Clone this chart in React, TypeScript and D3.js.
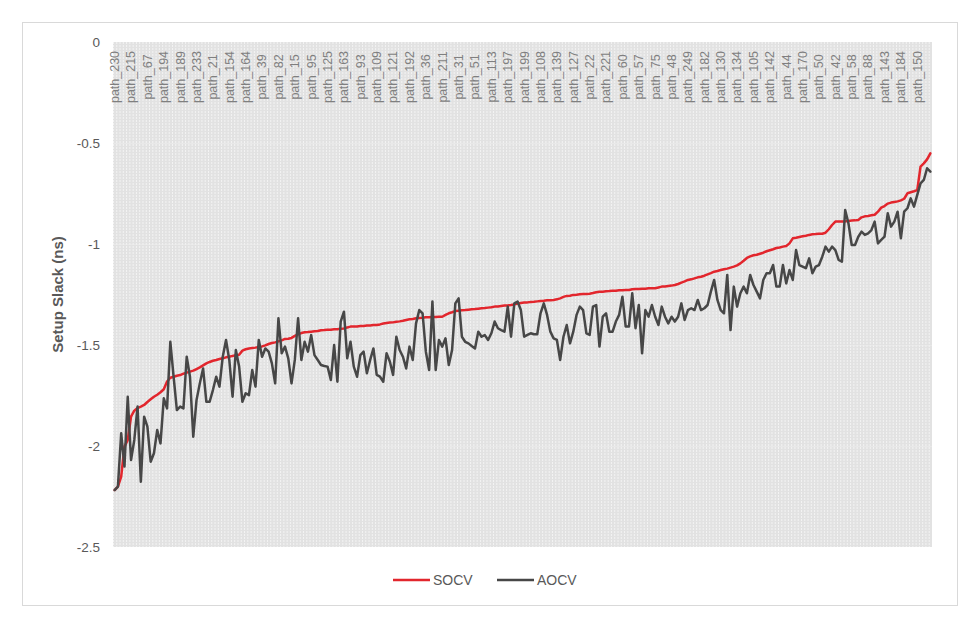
import React, { useEffect, useRef } from "react";
import * as d3 from "d3";

const tickLabels = [
  "path_230", "path_215", "path_67", "path_194", "path_189", "path_233", "path_21", "path_154", "path_164", "path_39",
  "path_82", "path_15", "path_95", "path_125", "path_163", "path_93", "path_109", "path_121", "path_192", "path_36",
  "path_211", "path_31", "path_51", "path_113", "path_197", "path_199", "path_108", "path_139", "path_127", "path_22",
  "path_221", "path_60", "path_57", "path_75", "path_48", "path_249", "path_182", "path_130", "path_134", "path_105",
  "path_142", "path_44", "path_170", "path_50", "path_42", "path_58", "path_88", "path_143", "path_184", "path_150",
];
const labelEvery = 5;

const socv = [
  -2.218, -2.201, -2.152, -2.003, -1.970, -1.855, -1.825, -1.812, -1.805, -1.797,
  -1.782, -1.769, -1.756, -1.746, -1.734, -1.719, -1.681, -1.662, -1.657, -1.652,
  -1.649, -1.642, -1.637, -1.632, -1.627, -1.619, -1.611, -1.601, -1.591, -1.584,
  -1.578, -1.574, -1.569, -1.566, -1.561, -1.558, -1.554, -1.551, -1.548, -1.528,
  -1.521, -1.517, -1.515, -1.513, -1.510, -1.507, -1.502, -1.495, -1.490, -1.487,
  -1.482, -1.477, -1.470, -1.469, -1.465, -1.455, -1.447, -1.441, -1.437, -1.436,
  -1.434, -1.432, -1.431, -1.427, -1.426, -1.424, -1.424, -1.422, -1.422, -1.419,
  -1.418, -1.413, -1.409, -1.408, -1.408, -1.406, -1.406, -1.404, -1.403, -1.401,
  -1.401, -1.398, -1.394, -1.391, -1.389, -1.388, -1.385, -1.383, -1.380, -1.376,
  -1.373, -1.371, -1.368, -1.366, -1.365, -1.363, -1.363, -1.361, -1.361, -1.360,
  -1.360, -1.351, -1.343, -1.338, -1.332, -1.330, -1.328, -1.327, -1.325, -1.323,
  -1.322, -1.320, -1.318, -1.317, -1.315, -1.313, -1.310, -1.309, -1.307, -1.305,
  -1.304, -1.302, -1.299, -1.295, -1.292, -1.290, -1.289, -1.287, -1.286, -1.284,
  -1.282, -1.281, -1.279, -1.279, -1.277, -1.274, -1.269, -1.262, -1.257, -1.256,
  -1.252, -1.251, -1.249, -1.248, -1.248, -1.246, -1.243, -1.239, -1.236, -1.236,
  -1.234, -1.233, -1.231, -1.231, -1.229, -1.229, -1.228, -1.228, -1.224, -1.223,
  -1.223, -1.221, -1.221, -1.219, -1.219, -1.219, -1.215, -1.211, -1.210, -1.208,
  -1.206, -1.203, -1.198, -1.191, -1.185, -1.178, -1.175, -1.170, -1.165, -1.162,
  -1.157, -1.150, -1.144, -1.137, -1.134, -1.129, -1.125, -1.122, -1.117, -1.112,
  -1.106, -1.096, -1.083, -1.069, -1.061, -1.056, -1.053, -1.048, -1.043, -1.036,
  -1.031, -1.026, -1.020, -1.017, -1.013, -1.010, -0.997, -0.972, -0.969, -0.965,
  -0.962, -0.959, -0.955, -0.952, -0.951, -0.949, -0.949, -0.944, -0.927, -0.906,
  -0.889, -0.889, -0.888, -0.888, -0.886, -0.884, -0.883, -0.881, -0.868, -0.863,
  -0.861, -0.858, -0.855, -0.840, -0.820, -0.812, -0.800, -0.795, -0.792, -0.789,
  -0.784, -0.776, -0.749, -0.744, -0.739, -0.733, -0.617, -0.601, -0.581, -0.551,
];

const aocv = [
  -2.218, -2.201, -1.937, -2.102, -1.756, -2.069, -1.970, -1.805, -2.177, -1.855,
  -1.904, -2.078, -2.036, -1.921, -1.987, -1.764, -1.814, -1.484, -1.657, -1.822,
  -1.805, -1.814, -1.558, -1.657, -1.954, -1.772, -1.690, -1.616, -1.781, -1.781,
  -1.723, -1.657, -1.706, -1.558, -1.475, -1.574, -1.756, -1.525, -1.607, -1.781,
  -1.739, -1.748, -1.624, -1.706, -1.475, -1.558, -1.517, -1.533, -1.591, -1.690,
  -1.368, -1.541, -1.508, -1.566, -1.690, -1.574, -1.368, -1.574, -1.484, -1.533,
  -1.451, -1.550, -1.574, -1.599, -1.604, -1.607, -1.673, -1.500, -1.682, -1.384,
  -1.335, -1.566, -1.484, -1.607, -1.657, -1.550, -1.533, -1.640, -1.574, -1.517,
  -1.648, -1.657, -1.682, -1.541, -1.582, -1.648, -1.459, -1.525, -1.558, -1.616,
  -1.508, -1.574, -1.393, -1.327, -1.343, -1.533, -1.624, -1.285, -1.624, -1.475,
  -1.508, -1.467, -1.599, -1.525, -1.294, -1.269, -1.459, -1.484, -1.492, -1.505,
  -1.517, -1.434, -1.459, -1.451, -1.475, -1.442, -1.384, -1.417, -1.426, -1.434,
  -1.310, -1.459, -1.294, -1.285, -1.327, -1.459, -1.450, -1.442, -1.447, -1.447,
  -1.343, -1.294, -1.351, -1.434, -1.467, -1.475, -1.574, -1.459, -1.401, -1.492,
  -1.434, -1.351, -1.310, -1.327, -1.442, -1.450, -1.310, -1.302, -1.508, -1.360,
  -1.343, -1.434, -1.434, -1.384, -1.351, -1.261, -1.409, -1.409, -1.244, -1.417,
  -1.302, -1.541, -1.327, -1.360, -1.302, -1.360, -1.401, -1.310, -1.360, -1.393,
  -1.360, -1.384, -1.360, -1.294, -1.376, -1.327, -1.318, -1.327, -1.277, -1.327,
  -1.318, -1.302, -1.236, -1.178, -1.277, -1.327, -1.343, -1.153, -1.426, -1.211,
  -1.310, -1.244, -1.211, -1.244, -1.153, -1.203, -1.236, -1.269, -1.178, -1.145,
  -1.145, -1.104, -1.211, -1.211, -1.104, -1.195, -1.129, -1.178, -1.030, -1.104,
  -1.112, -1.120, -1.071, -1.145, -1.112, -1.104, -1.063, -1.013, -1.038, -1.013,
  -1.030, -1.079, -1.087, -0.832, -0.898, -1.005, -1.005, -0.964, -0.939, -0.955,
  -0.947, -0.931, -0.889, -0.997, -0.980, -0.964, -0.848, -0.914, -0.889, -0.840,
  -0.972, -0.840, -0.823, -0.774, -0.815, -0.757, -0.700, -0.683, -0.625, -0.642,
];

const yTicks = [0, -0.5, -1, -1.5, -2, -2.5];
const yTitle = "Setup Slack (ns)";
const seriesNames = ["SOCV", "AOCV"];
const seriesColors = ["#e2262d", "#474747"];

const FONT = "'Liberation Sans', Arial, sans-serif";

export default function App() {
  const ref = useRef<SVGSVGElement>(null);

  useEffect(() => {
    const W = 980, H = 625;
    const plot = { left: 113, right: 932, top: 42, bottom: 547 };
    const svg = d3.select(ref.current);
    svg.selectAll("*").remove();

    svg.append("rect").attr("x", 0).attr("y", 0).attr("width", W).attr("height", H).attr("fill", "#ffffff");
    svg.append("rect").attr("x", 22.5).attr("y", 22.5).attr("width", 935).attr("height", 583)
      .attr("fill", "none").attr("stroke", "#d9d9d9").attr("stroke-width", 1);

    const idx = d3.range(socv.length);
    const x = d3.scaleBand<number>().domain(idx).range([plot.left, plot.right]).padding(0);
    const bw = x.bandwidth();
    const y = d3.scaleLinear().domain([-2.5, 0]).range([plot.bottom, plot.top]);
    const cx = (i: number) => (x(i) as number) + bw / 2;

    // plot background
    svg.append("rect").attr("x", plot.left).attr("y", plot.top)
      .attr("width", plot.right - plot.left).attr("height", plot.bottom - plot.top)
      .attr("fill", "#e2e2e2");
    svg.append("g").selectAll("line").data(idx).join("line")
      .attr("x1", (d) => (x(d) as number) + 0.5).attr("x2", (d) => (x(d) as number) + 0.5)
      .attr("y1", plot.top).attr("y2", plot.bottom)
      .attr("stroke", "#ffffff").attr("stroke-opacity", 0.6).attr("stroke-width", 1)
      .attr("stroke-dasharray", "2,1");

    // horizontal gridlines (faint)
    svg.append("g").selectAll("line").data(yTicks.filter((t) => t !== 0 && t !== -2.5)).join("line")
      .attr("x1", plot.left).attr("x2", plot.right)
      .attr("y1", (d) => Math.round(y(d)) + 0.5).attr("y2", (d) => Math.round(y(d)) + 0.5)
      .attr("stroke", "#eeeeee").attr("stroke-width", 1).attr("stroke-opacity", 0.5);

    // y tick labels
    svg.append("g").selectAll("text").data(yTicks).join("text")
      .attr("x", 100).attr("y", (d) => y(d)).attr("dy", "0.35em")
      .attr("text-anchor", "end").attr("font-family", FONT).attr("font-size", 13.5)
      .attr("fill", "#595959").text((d) => String(d));

    // y title
    svg.append("text")
      .attr("transform", `translate(63,${(plot.top + plot.bottom) / 2}) rotate(-90)`)
      .attr("text-anchor", "middle").attr("font-family", FONT).attr("font-size", 15)
      .attr("font-weight", "bold").attr("fill", "#595959").text(yTitle);

    // category labels
    svg.append("g").selectAll("text").data(tickLabels).join("text")
      .attr("transform", (_d, k) => `translate(${cx(k * labelEvery)},77) rotate(-90)`)
      .attr("text-anchor", "middle").attr("dy", "0.35em")
      .attr("font-family", FONT).attr("font-size", 12.5).attr("fill", "#7f7f7f")
      .text((d) => d);

    // lines
    const line = d3.line<number>().x((_d, i) => cx(i)).y((d) => y(d)).curve(d3.curveLinear);
    [socv, aocv].forEach((s, k) => {
      svg.append("path").datum(s).attr("d", line).attr("fill", "none")
        .attr("stroke", seriesColors[k]).attr("stroke-width", 2.5)
        .attr("stroke-linejoin", "round").attr("stroke-linecap", "round");
    });

    // legend
    const legendX = [393, 497];
    const legendY = 580;
    seriesNames.forEach((name, k) => {
      svg.append("line").attr("x1", legendX[k]).attr("x2", legendX[k] + 37)
        .attr("y1", legendY).attr("y2", legendY)
        .attr("stroke", seriesColors[k]).attr("stroke-width", 2.5);
      svg.append("text").attr("x", legendX[k] + 40).attr("y", legendY).attr("dy", "0.35em")
        .attr("font-family", FONT).attr("font-size", 14).attr("fill", "#595959").text(name);
    });
  }, []);

  return (
    <div style={{ position: "absolute", left: 0, top: 0 }}>
      <svg ref={ref} width={980} height={625} />
    </div>
  );
}
